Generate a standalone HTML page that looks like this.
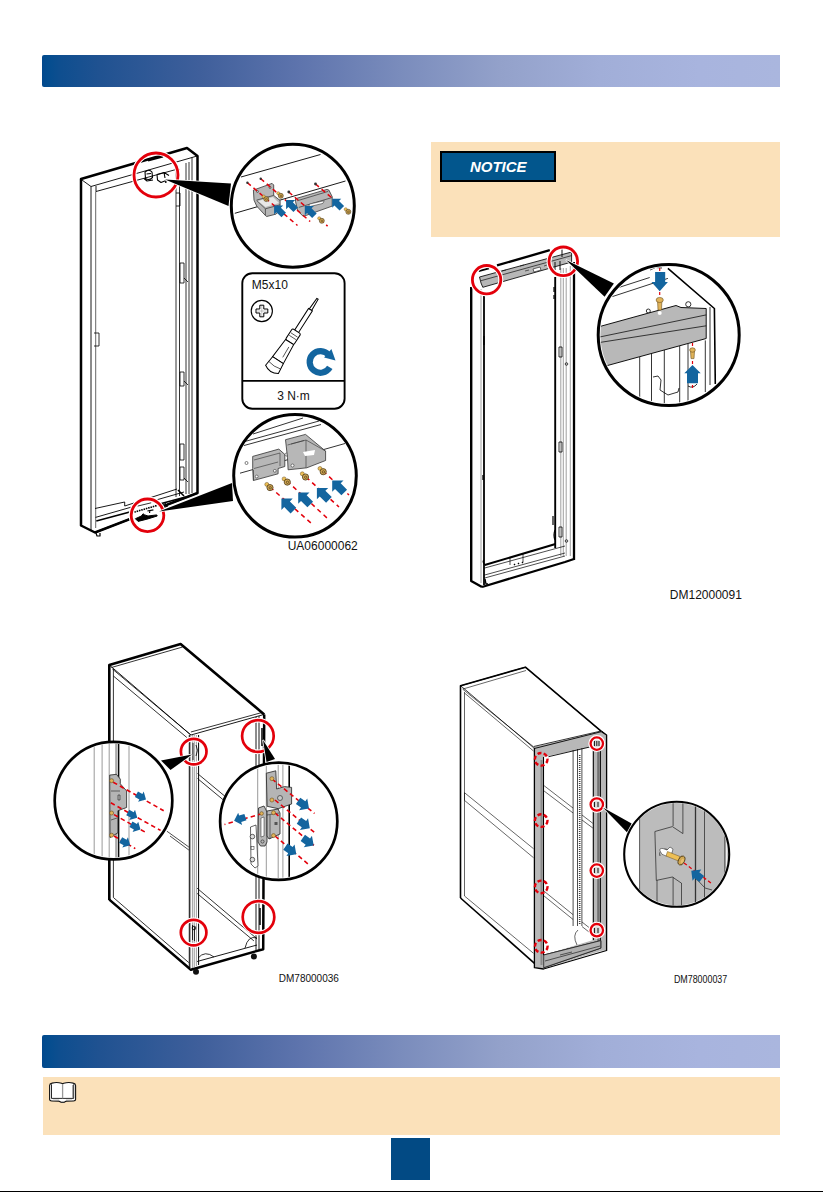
<!DOCTYPE html>
<html><head><meta charset="utf-8">
<style>
html,body{margin:0;padding:0;background:#fff;}
body{width:823px;height:1192px;position:relative;overflow:hidden;font-family:"Liberation Sans",sans-serif;}
.bar{position:absolute;left:42px;width:738px;height:32px;border-radius:2px 0 0 2px;
background:linear-gradient(to right,#02488C 0%,#034D8F 0.7%,#0E4E8F 2.4%,#205291 7.9%,#3F5F9B 21.4%,#5E74AD 35%,#7A8CBC 48.5%,#93A1CA 62%,#A1AED8 75.6%,#A8B4DE 89%,#AAB6DE 100%);}
.note{position:absolute;background:#FBE1BA;}
.notice-lbl{position:absolute;left:440px;top:151px;width:111.5px;height:27px;background:#02568D;border:2px solid #000;
color:#fff;font:italic bold 15px "Liberation Sans",sans-serif;text-align:center;line-height:28px;text-indent:1px;box-sizing:content-box;}
.pg{position:absolute;left:391px;top:1138px;width:39px;height:42px;background:#024A84;}
.bline{position:absolute;left:0;top:1191px;width:823px;height:1px;background:#000;}
svg{position:absolute;left:0;top:0;}
.cap{font-family:"Liberation Sans",sans-serif;fill:#111;}
</style></head><body>
<div class="bar" style="top:55px"></div>
<div class="note" style="left:431px;top:142px;width:349px;height:95px"></div>
<div class="notice-lbl">NOTICE</div>
<div class="bar" style="top:1035px;height:33px"></div>
<div class="note" style="left:43px;top:1077px;width:737px;height:58px"></div>
<div class="pg"></div>
<div class="bline"></div>

<svg width="823" height="1192" viewBox="0 0 823 1192">
<defs>
<path id="arr" d="M0 0 L-8 -8 L-8 -4 L-17 -4 L-17 4 L-8 4 L-8 8 Z" fill="#13659F"/>
<path id="arr2" d="M0 0 L-7.5 -7.5 L-7.5 -4 L-14 -4 L-14 4 L-7.5 4 L-7.5 7.5 Z" fill="#13659F"/>
<g id="scr"><circle cx="-2.8" cy="-2.8" r="2" fill="#EDBF55" stroke="#6b5020" stroke-width="0.5"/><circle cx="0.4" cy="0.4" r="3.1" fill="#D2A852" stroke="#4a3818" stroke-width="0.8"/><circle cx="0.6" cy="0.6" r="1.2" fill="none" stroke="#3a2a10" stroke-width="0.6"/></g>
</defs>
<!-- book icon -->
<g fill="none" stroke-linejoin="round">
<path d="M49.6 1085.5 Q49.6 1083.6 52 1083.1 Q57 1081.9 61.5 1083.3 L62.6 1083.8 L63.7 1083.3 Q68.5 1081.9 73.2 1083.1 Q75.6 1083.6 75.6 1085.5 L75.6 1099.6 Q75.6 1100.9 73.5 1101 L66.5 1101.1 Q64.6 1101.5 64.2 1102.4 L61 1102.4 Q60.6 1101.5 58.7 1101.1 L51.7 1101 Q49.6 1100.9 49.6 1099.6 Z" fill="#fff" stroke="#111" stroke-width="1.1"/>
<path d="M51.5 1084.3 L51.5 1098.4 L73.7 1098.4 L73.7 1084.3" stroke="#111" stroke-width="0.9"/>
<path d="M62.6 1084 L62.6 1098.3" stroke="#999" stroke-width="1.3"/>
<path d="M72.5 1085 L72.5 1098" stroke="#aaa" stroke-width="1"/>
<path d="M53 1100 L59 1100 M66 1100 L72 1100 M61 1101.8 L64 1101.8" stroke="#aaa" stroke-width="0.8"/>
</g>

<g id="ill1">
<!-- door frame -->
<g fill="none" stroke="#000" stroke-linejoin="round">
<path d="M81 179 L187 148 L197.5 156 L197.5 493 L95 532.5 L81 525.5 Z" fill="#fff" stroke-width="2.5"/>
<path d="M82 180 L91 186.5 L192 157.5 L197 156" stroke-width="0.9"/>
<path d="M96 191.5 L176 169.5 M96 186 L96 191.5" stroke-width="0.9"/>
<path d="M91 186.5 L91 531" stroke-width="0.9"/>
<path d="M95.7 191.5 L95.7 528" stroke-width="0.6"/>
<path d="M176 170 L176 497 M179.5 169 L179.5 496 M186 163 L186 494 M189 162 L189 494 M192 157.5 L192 493" stroke-width="0.8"/>
<!-- bottom rail -->
<path d="M95 508.5 L124.7 502 L124.7 506 M124.7 506 L177 489" stroke-width="0.9"/>
<path d="M95.5 517.4 L184 492" stroke-width="0.9"/>
<path d="M96.3 521 L185.6 497" stroke-width="1.6"/>
<path d="M95 532.5 L197.5 493" stroke-width="1.8"/>
<path d="M178 490 L184 496" stroke-width="1.5"/>
<!-- small latches on right rail -->
<path d="M180 263 L180 283 L184 283 L184 263 Z M180 372 L180 386 L184 386 L184 372 Z M180 444 L180 460 L184 460 L184 444 Z M180 467 L180 480 L184 480 L184 467 Z" stroke-width="0.8"/>
<path d="M184 278 L188 282 M184 381 L188 385 M184 478 L188 482" stroke-width="0.8"/>
<path d="M94 333 L99 333 L99 346 L94 346" stroke-width="0.8"/>
<path d="M176 176 L180 176 M176 193 L180 193 L180 206 L176 206" stroke-width="0.8"/>
<!-- top details -->
<path d="M145 172 Q149 168.5 152 172 L152.5 177.5 Q149 181 145.5 178.5 Z M146.5 174 L151 173.5 M144 178.5 L147 181 L153 180" stroke-width="1.1"/>
<path d="M157 174.5 L164 172.5 L169 175.5 M157 174.5 L157.5 180 L161 182.5 L166 180.5 M164 172.5 L165 178" stroke-width="1.1"/>
<circle cx="165.8" cy="182" r="0.9" fill="#000" stroke="none"/>
<path d="M148 160.5 L163 156.5" stroke-width="2"/>
<!-- bottom circle details -->

<path d="M96 533 L97 536 L100 536 L100 533" stroke-width="1.2"/>
</g>
<!-- red circles -->
<circle cx="156" cy="175" r="22" fill="none" stroke="#fff" class="halo" stroke-width="5.0"/>
<circle cx="156" cy="175" r="22" fill="none" stroke="#E3000B" stroke-width="2.8"/>
<circle cx="147.5" cy="515.3" r="16.3" fill="#fff"/>
<g fill="none" stroke="#000">
<path d="M134.3 512.1 L156.7 505.6" stroke-width="1.6" stroke-dasharray="1.6 0.8"/>
<path d="M137.6 506.1 L151.2 502.8" stroke-width="0.8"/>
<path d="M135.4 518.7 L141.4 516 L143 513.8 L144.7 514.9 L148 516 L156.7 514.9 L157.2 516 L146.9 519.2 L138.1 521.4 Z" fill="#000" stroke-width="1"/>
<path d="M147.4 511 L153.4 509.8 M150 510.5 L149.5 513" stroke-width="1.2"/>
<path d="M158 506 L166 503.5 M160 509 L168 506" stroke-width="1"/>
</g>
<circle cx="147.5" cy="515.3" r="16.3" fill="none" stroke="#fff" class="halo" stroke-width="5.0"/>
<circle cx="147.5" cy="515.3" r="16.3" fill="none" stroke="#E3000B" stroke-width="2.8"/>
<!-- wedges -->
<path d="M165 179.5 L231 183.5 L228.5 206 Z" fill="#000" stroke="#fff" stroke-width="1.6" paint-order="stroke"/>
<path d="M159 511.5 L232 483 L233 501 Z" fill="#000" stroke="#fff" stroke-width="1.6" paint-order="stroke"/>

<!-- big circle 1 -->
<circle cx="292.8" cy="205.8" r="61.5" fill="#fff" stroke="#000" stroke-width="3"/>
<g fill="none" stroke="#000" stroke-width="0.9">
<path d="M241 177 L320.5 154.5"/>
<path d="M234.8 213.3 L345.5 181"/>
</g>
<!-- bracket 1 -->
<path d="M253.4 190.1 L272.1 183.4 L273.7 185 L273.7 195.4 L280.1 200.5 L280.1 210.1 L276.1 214.1 L266.7 216.5 L265.4 215.5 L256.7 206.1 L254 200.1 Z" fill="#B7B7B7" stroke="#333" stroke-width="0.8"/>
<path d="M256.7 200.1 L273.7 195.4 M265.4 208.8 L280.1 204.8 M265.4 208.8 L265.4 215.5 M256.7 200.5 L265.4 208.8" fill="none" stroke="#333" stroke-width="0.7"/>
<path d="M258 201 L273 197 L279 203 L265.4 207 Z" fill="#e8e8e8"/>
<circle cx="257.5" cy="191.5" r="1" fill="none" stroke="#333" stroke-width="0.6"/>
<circle cx="270" cy="187.5" r="1" fill="none" stroke="#333" stroke-width="0.6"/>
<!-- bracket 2 -->
<path d="M295.5 198.7 L326.9 189.4 L328.9 190.1 L332.2 196.7 L332.2 206.1 L304.2 216.1 L302.2 215.5 L297.5 210.1 L295.5 201.4 Z" fill="#B7B7B7" stroke="#333" stroke-width="0.8"/>
<path d="M297.5 200.7 L328.2 191.4 M298.8 207.4 L332.2 197.5" fill="none" stroke="#333" stroke-width="0.7"/>
<path d="M309.5 204.1 L324.2 200.7 L322.9 203.4 L308.8 206.8 Z" fill="#fff" stroke="#333" stroke-width="0.6"/>
<!-- red dashed lines -->
<g stroke="#E3000B" stroke-width="1.5" stroke-dasharray="4.5 3.5" fill="none">
<path d="M247.4 182.7 L297.5 225.5"/>
<path d="M260.7 178.7 L310.2 221.5"/>
<path d="M288.8 192 L304.2 205.4"/>
<path d="M315.5 184 L332.2 198.1"/>
<path d="M320.2 219.5 L327.6 226.1"/>
</g>
<g fill="#333"><circle cx="247.4" cy="182.7" r="1.2"/><circle cx="260.7" cy="178.7" r="1.2"/><circle cx="288.8" cy="192" r="1.4"/><circle cx="315.5" cy="184" r="1.4"/></g>
<!-- screws -->
<use href="#scr" transform="translate(266,198.8) scale(0.8)"/>
<use href="#scr" transform="translate(280.5,195.5) scale(0.8)"/>
<use href="#scr" transform="translate(321.5,220.5) scale(0.8)"/>
<use href="#scr" transform="translate(348,211.5) scale(0.8)"/>
<!-- blue arrows circle 1 -->
<use href="#arr" transform="translate(274.1,205.4) rotate(225) scale(0.8)"/>
<use href="#arr" transform="translate(286.1,200.1) rotate(225) scale(0.8)"/>
<use href="#arr" transform="translate(304.8,206.1) rotate(225) scale(0.8)"/>
<use href="#arr" transform="translate(332.2,198.7) rotate(225) scale(0.8)"/>

<!-- tool box -->
<rect x="242.3" y="273.2" width="102.3" height="135.5" rx="10" fill="#fff" stroke="#000" stroke-width="1.9"/>
<path d="M242.3 380.8 L344.6 380.8" stroke="#000" stroke-width="1.8"/>
<text x="251.8" y="288.9" font-size="12" fill="#111" class="cap">M5x10</text>
<text x="293.5" y="400" font-size="12" fill="#111" class="cap" text-anchor="middle">3 N·m</text>
<circle cx="261.8" cy="311" r="10.6" fill="none" stroke="#000" stroke-width="1.1"/>
<path d="M259.8 305.2 L263.8 305.2 L263.8 309 L267.8 309 L267.8 313 L263.8 313 L263.8 316.8 L259.8 316.8 L259.8 313 L256 313 L256 309 L259.8 309 Z" fill="#fff" stroke="#000" stroke-width="1"/>
<path d="M261.8 306 L261.8 316 M257 311 L266.8 311" stroke="#888" stroke-width="0.5"/>
<!-- screwdriver -->
<g transform="translate(317.5,298.8) rotate(32.8)" fill="#fff" stroke="#000" stroke-width="1">
<path d="M-0.8 0 L0.8 0 L1.4 13 L-1.4 13 Z"/>
<rect x="-2.3" y="13" width="4.6" height="26"/>
<rect x="-5" y="38.5" width="10" height="13" rx="1.5"/>
<path d="M-4.8 51.5 L-6.4 73 L6.4 73 L4.8 51.5 Z"/>
<path d="M-6.4 73 L-7.6 84 Q0 89 7.6 84 L6.4 73 Z"/>
<path d="M-4 43 L4 43 M-4 46 L4 46 M2 56 L2.5 68 M-7 79 Q0 81 7 79" stroke-width="0.6"/>
</g>
<!-- rotation arrow -->
<path d="M329.8 367.4 A10.8 10.8 0 1 1 328.8 355.1" fill="none" stroke="#13659F" stroke-width="6.2"/>
<path d="M331.4 349 L335.5 360.5 L324.1 357.5 Z" fill="#13659F"/>

<!-- big circle 2 -->
<circle cx="295" cy="475.8" r="61.3" fill="#fff" stroke="#000" stroke-width="3"/>
<g fill="none" stroke="#000" stroke-width="0.8">
<path d="M253 434 L303 418 M243 442 L319 421 M244 445.5 L321 424.5 M240 473.2 L345 443.5"/>
</g>
<path d="M252.7 456.4 L278.8 449.1 L284.8 454.4 L284.8 466.5 L278.1 468.5 L278.1 473.8 L253.4 480.5 L252.7 468.5 Z" fill="#B7B7B7" stroke="#333" stroke-width="0.8"/>
<path d="M254 460 L280 453 L280 466 M254 468.5 L278.1 462 M253.4 480.5 L253.4 470" fill="none" stroke="#333" stroke-width="0.6"/>
<circle cx="256.7" cy="476.5" r="1.4" fill="#fff" stroke="#333" stroke-width="0.6"/>
<circle cx="274.8" cy="470.8" r="1.4" fill="#fff" stroke="#333" stroke-width="0.6"/>
<circle cx="246.5" cy="463" r="1.5" fill="#fff" stroke="#333" stroke-width="0.6"/>
<circle cx="286.5" cy="454.5" r="1.5" fill="#fff" stroke="#333" stroke-width="0.6"/>
<path d="M285.5 439.7 L305.5 434.4 L325.6 451.1 L325.6 460.5 L306.8 467.8 L288.1 469.8 L287.5 457.8 Z" fill="#B7B7B7" stroke="#333" stroke-width="0.8"/>
<path d="M287.5 445 L306 440 L306 467.8 M306 440 L325.6 451.1 M291 444 L304 440.5" fill="none" stroke="#333" stroke-width="0.6"/>
<path d="M303 452 L315 450 L314 455 L305 456 Z" fill="#fff"/>
<circle cx="292.5" cy="465.5" r="1.5" fill="#fff" stroke="#333" stroke-width="0.6"/>
<g stroke="#E3000B" stroke-width="1.5" stroke-dasharray="4.5 3.8" fill="none">
<path d="M270 487 L311 523"/>
<path d="M287 481 L327 518"/>
<path d="M306 477 L339 507"/>
<path d="M323 471 L349 495"/>
</g>
<use href="#scr" transform="translate(269.6,487.2)"/>
<use href="#scr" transform="translate(286.9,481.7)"/>
<use href="#scr" transform="translate(305.1,476.6)"/>
<use href="#scr" transform="translate(322.8,471.3)"/>
<use href="#arr" transform="translate(281.4,498.6) rotate(225)"/>
<use href="#arr" transform="translate(298.2,492.5) rotate(225)"/>
<use href="#arr" transform="translate(316.9,487.9) rotate(225)"/>
<use href="#arr" transform="translate(332.2,480.5) rotate(225)"/>
<text x="287.7" y="550.2" font-size="12" fill="#111" class="cap">UA06000062</text>
</g>
<g id="ill2">
<g fill="none" stroke="#000" stroke-linejoin="round">
<!-- top back edge -->
<path d="M497 265.4 L549.8 250.2" stroke-width="2.3"/>
<path d="M478.7 271.2 L489 268.3" stroke-width="1.8"/>
<!-- left post -->
<path d="M471.2 287 L471.2 581 L482 587" stroke-width="2.4"/>
<path d="M484 295 L484 585" stroke-width="1.8"/>
<path d="M481 289 L481 583" stroke="#888" stroke-width="0.8"/>
<!-- right post -->
<path d="M574 262 L574 560" stroke-width="2.3"/>
<path d="M555.2 277 L555.2 548" stroke-width="1.9"/>
<path d="M560.8 268 L560.8 556 M563.3 268 L563.3 556 M566.2 268 L566.2 556 M570.3 266 L570.3 556" stroke="#777" stroke-width="0.7"/>
<!-- bottom rail -->
<path d="M482 587 L565 562 L574 559" stroke-width="2.3"/>
<path d="M484.7 565 L555.5 544" stroke-width="2"/>
<path d="M484.7 568 L565 546 M484.7 575 L565 553 M484.7 578 L565 556" stroke-width="0.7"/>
<path d="M510 558 L510 565 M523 554 L523 562" stroke-width="0.7"/>
<path d="M514 564 L515 565 M518 563 L519 564 M522 562 L523 563" stroke-width="1.4"/>
<path d="M555 540 Q553 535 555 530 M484 560 Q482 562 485 565" stroke-width="1.2"/>
<path d="M485 579 L486 584 L488 584" stroke-width="1.3"/>
<!-- details on right post -->
<path d="M559 347 L559 357 L562 357 L562 347 Z M559 442 L559 452 L562 452 L562 442 Z M559 527 L559 537 L562 537 L562 527 Z" stroke-width="0.8"/>
<circle cx="566.5" cy="364" r="1.3" stroke-width="0.7"/><circle cx="566.5" cy="541" r="1.3" stroke-width="0.7"/>
<path d="M554 287 L554 292 M554 295 L554 299 M553 516 L553 525" stroke-width="1.2"/>
<path d="M484 336 L484 345 M483 475 L483 480" stroke-width="1.3"/>
</g>
<!-- top gray bar -->
<path d="M479.5 277 L571.6 252 L571.6 262 L482.8 287.3 L481 283 Z" fill="#B7B7B7" stroke="#111" stroke-width="0.9"/>
<path d="M481 280.7 L571.6 255.6" fill="none" stroke="#111" stroke-width="0.7"/>
<path d="M533 269 L540 267 L541 270 L534 272 Z M525 271 L529 270 M544 266 L550 264" fill="#fff" stroke="#111" stroke-width="0.6"/>
<path d="M502 271 L506 270 M520 266 L524 265" stroke="#111" stroke-width="0.6"/>
<path d="M560 261 L560 270 M562 257 L562 248 M555 262 L555 270" stroke="#111" stroke-width="1"/>
<!-- red circles -->
<circle cx="486.6" cy="279.7" r="14.2" fill="none" stroke="#fff" class="halo" stroke-width="5.0"/>
<circle cx="486.6" cy="279.7" r="14.2" fill="none" stroke="#E3000B" stroke-width="2.8"/>
<circle cx="563.3" cy="261.3" r="14.3" fill="none" stroke="#fff" class="halo" stroke-width="5.0"/>
<circle cx="563.3" cy="261.3" r="14.3" fill="none" stroke="#E3000B" stroke-width="2.8"/>
<!-- wedge -->
<path d="M566 260 L613.9 283.5 L604.6 296.8 Z" fill="#000" stroke="#fff" stroke-width="1.6" paint-order="stroke"/>
<!-- zoom circle -->
<clipPath id="zc2"><circle cx="668.7" cy="335" r="68.3"/></clipPath>
<circle cx="668.7" cy="335" r="70.5" fill="#fff"/>
<g clip-path="url(#zc2)">
<g fill="none" stroke="#000" stroke-width="0.8">
<path d="M612.3 296.6 L667.9 278.4 M618.7 287.5 L649.7 277.5 M650 270 Q655 266 662 268"/>
<path d="M667.9 268.4 L714.4 308.5 L715.3 384" stroke-width="1.6"/>
<path d="M710 307 L710 385"/>
<path d="M639.7 357 L639.7 400 M651.5 353 L651.5 404 M664.3 349.5 L664.3 405 M679.7 345.8 L679.7 404 M688 344 L688 402 M705.3 340.4 L705.3 392"/>
<path d="M653 377 L658 376 L661 380 L660 390 L668 395 L678 392 L679 388"/>
<path d="M688 386 Q693 389 697 384"/>
<circle cx="688.3" cy="304.3" r="2.6"/>
<circle cx="648.3" cy="311" r="2"/>
</g>
<path d="M590 329.2 L676 305.5 L681 307.5 L706.2 308.5 L706.2 338.5 L590 370.3 Z" fill="#B8B8B8" stroke="#111" stroke-width="1"/>
<path d="M590 339 L706.2 314.9 M590 344 L706.2 325.8" fill="none" stroke="#111" stroke-width="0.8"/>
<circle cx="659.7" cy="313" r="2" fill="#fff"/>
<g stroke="#E3000B" stroke-width="1.2" stroke-dasharray="3 3" fill="none">
<path d="M659.7 268 L659.7 300"/>
<path d="M692.5 343 L692.5 388"/>
</g>
<g fill="#E1B45A" stroke="#6b5020" stroke-width="0.6">
<path d="M657.5 300 L661.9 300 L661.5 310 L658 310 Z"/>
<ellipse cx="659.7" cy="300" rx="3.6" ry="2.6"/>
<path d="M690.5 351 L694.5 351 L694 358.6 L691 358.6 Z"/>
<ellipse cx="692.5" cy="350" rx="2.8" ry="2.2"/>
</g>
<g fill="#13659F">
<path d="M655.1 272 L665.2 272 L665.2 282 L667.9 282 L659.7 291.2 L651.5 282 L655.1 282 Z"/>
<path d="M687 383.2 L698 383.2 L698 373.2 L700.7 373.2 L692.5 365 L684.3 373.2 L687 373.2 Z"/>
</g>
</g>
<circle cx="668.7" cy="335" r="70.5" fill="none" stroke="#000" stroke-width="3"/>
<text x="669.8" y="598.6" font-size="12" class="cap">DM12000091</text>
</g>
<g id="ill3">
<g fill="none" stroke="#000" stroke-linejoin="round">
<!-- top panel -->
<path d="M109.3 665 L180.6 644.1 L264.2 714.4 L190.9 735 Z" fill="#fff" stroke-width="0.9"/>
<path d="M109.3 900 L109.3 665 L180.6 644.1 L264.2 714.4" stroke-width="2.6"/>
<path d="M111.4 667.5 L182.6 647 M112.4 669 L190.9 735 M113.4 676 L186.8 737.5 M190.9 732 L262 712.5" stroke-width="0.8"/>
<path d="M113.4 669 L113.4 897.5" stroke-width="0.8"/>
<!-- bottom -->
<path d="M109.3 899.6 L190.9 969.8 L263.2 949.2 L264.2 714.4" stroke-width="2.5"/>
<path d="M113.4 897.5 L188.8 962.6" stroke-width="0.8"/>
<!-- front posts -->
<path d="M189.3 735 L189.3 969 M198.6 735 L198.6 965" stroke-width="1"/>
<path d="M190.6 735 L190.6 969 M192.6 735 L192.6 968 M194.3 735 L194.3 967 M196.4 735 L196.4 966" stroke="#777" stroke-width="0.7"/>
<path d="M256 717 L256 950 M259 716 L259 950" stroke-width="0.9"/>
<!-- bottom rail -->
<path d="M197.1 961.5 L257 945" stroke-width="0.9"/>
<path d="M198 958 Q205 950 214 957 M245 948 Q248 935 257 938" stroke-width="0.8"/>
<!-- back frame diagonals -->
<path d="M197.1 888.2 L257 938.8 M197.1 893.4 L253.9 940.9 M197.5 773.5 L256 822 M197.5 778.5 L256 827" stroke-width="0.8"/>
<path d="M166.9 831.2 L188.8 847 M170 836 L188.8 850" stroke-width="0.7"/>
</g>
<g fill="#111"><circle cx="196" cy="971.8" r="3"/><circle cx="253.9" cy="956.4" r="3"/></g>
<!-- red circles -->
<g fill="none" stroke="#fff" stroke-width="4.8" class="halo3">
<circle cx="193.7" cy="751.6" r="12.8"/>
<circle cx="257.9" cy="736" r="15.8"/>
<circle cx="193.6" cy="932.6" r="12.8"/>
<circle cx="258.5" cy="917" r="15.8"/>
</g>
<g fill="none" stroke="#E3000B" stroke-width="2.7">
<circle cx="193.7" cy="751.6" r="12.8"/>
<circle cx="257.9" cy="736" r="15.8"/>
<circle cx="193.6" cy="932.6" r="12.8"/>
<circle cx="258.5" cy="917" r="15.8"/>
</g>
<g fill="none" stroke="#000" stroke-width="0.8">
<path d="M193 743 L193 760 M196 745 Q199 750 196 756 M192.5 925 L192.5 940 M194.5 927 L194.5 941"/>
<circle cx="194" cy="928" r="1.8"/>
<path d="M262 728 L262 746 M260 908 L260 925" stroke-width="1.5"/>
</g>
<!-- wedges -->
<path d="M192 754.6 L161 760.5 L170.5 770 Z" fill="#000" stroke="#fff" stroke-width="1.6" paint-order="stroke"/>
<path d="M263 740 L266.5 762 L275 759 Z" fill="#000" stroke="#fff" stroke-width="1.6" paint-order="stroke"/>

<!-- left zoom circle -->
<clipPath id="zc3a"><circle cx="113.5" cy="800.6" r="56.8"/></clipPath>
<circle cx="113.5" cy="800.6" r="58.8" fill="#fff"/>
<g clip-path="url(#zc3a)">
<g fill="none" stroke="#000">
<path d="M94.2 735 L94.2 866 M102.1 735 L102.1 866 M109.2 735 L109.2 866 M129 735 L129 866" stroke-width="0.6" stroke="#555"/>
<path d="M116.4 735 L116.4 866" stroke-width="2.5" stroke="#aaa"/>
<path d="M118.7 735 L118.7 866" stroke-width="1.3"/>
</g>
<path d="M109.7 775.1 L116.4 774.3 L120.3 779.1 L120.3 783.8 L126.6 790.9 L126.6 807.5 L117.9 810.7 L117.9 832.8 L110 837.5 Z" fill="#B5B5B5" stroke="#222" stroke-width="0.8"/>
<path d="M111 791 L120 791 M118 795 L120 795 L120 800 L118 800 Z M111 820 L117 818" fill="none" stroke="#222" stroke-width="0.6"/>
<g stroke="#E3000B" stroke-width="1.6" stroke-dasharray="4.5 3.2" fill="none">
<path d="M113.2 782.2 L163.7 810.7"/>
<path d="M110.8 802.8 L160.6 830.4"/>
<path d="M114 814.6 L146.4 832.8"/>
<path d="M114 836 L135.3 848.6"/>
</g>
<g fill="#E1B45A" stroke="#6b5020" stroke-width="0.6">
<circle cx="111.6" cy="780.7" r="2"/><circle cx="111.6" cy="813" r="2"/><circle cx="111.6" cy="835.2" r="2"/>
</g>
<g fill="#13659F">
<use href="#arr2" transform="translate(146,799.5) rotate(29) scale(0.78)"/>
<use href="#arr2" transform="translate(137.3,817.7) rotate(29) scale(0.78)"/>
<use href="#arr2" transform="translate(140.5,829.6) rotate(29) scale(0.78)"/>
<use href="#arr2" transform="translate(130.2,845.3) rotate(29) scale(0.78)"/>
</g>

</g>
<circle cx="113.5" cy="800.6" r="58.8" fill="none" stroke="#000" stroke-width="2.7"/>
<!-- right zoom circle -->
<clipPath id="zc3b"><circle cx="278.7" cy="821.3" r="56.6"/></clipPath>
<circle cx="278.7" cy="821.3" r="58.6" fill="#fff"/>
<g clip-path="url(#zc3b)">
<g fill="none">
<path d="M257.7 755 L257.7 888 M266.3 755 L266.3 888 M278.2 755 L278.2 888 M282.9 755 L282.9 888" stroke-width="0.6" stroke="#555"/>
<path d="M289.2 755 L289.2 888" stroke-width="1.6" stroke="#000"/>
</g>
<path d="M250.5 827 L256 825 L258 866 L255 868 L251 864 Z" fill="#fff" stroke="#222" stroke-width="0.7"/>
<circle cx="252.4" cy="836.6" r="2.3" fill="#ddd" stroke="#222" stroke-width="0.7"/><rect x="251" y="846.5" width="3" height="3" fill="none" stroke="#222" stroke-width="0.5"/>
<circle cx="252.4" cy="859.6" r="2.3" fill="#ddd" stroke="#222" stroke-width="0.7"/>
<path d="M266.3 773.2 L275.8 770.8 L276.6 789 L284.5 786.6 L291.6 787.4 L291.6 804 L278.2 808.7 L267.1 806.3 Z" fill="#B5B5B5" stroke="#222" stroke-width="0.8"/>
<circle cx="280" cy="798" r="2.5" fill="#c8c8c8" stroke="#222" stroke-width="0.6"/>
<path d="M258.5 808 L264 806 L267 812 L267 842 L265 846 L260.5 846 L258 842 Z" fill="#B7B7B7" stroke="#222" stroke-width="0.8"/>
<path d="M261 818 L264 817 L264 836 L261 837 Z" fill="#fff" stroke="#222" stroke-width="0.5"/>
<circle cx="262.5" cy="841.5" r="1.6" fill="none" stroke="#222" stroke-width="0.6"/>
<path d="M267 811 L278 809 L280 813 L280 834 L269 839 L267 836 Z" fill="#B7B7B7" stroke="#222" stroke-width="0.8"/>
<path d="M267 815 L279 813 M270 839 L270 815" fill="none" stroke="#222" stroke-width="0.6"/>
<rect x="274.5" y="822" width="3" height="3" fill="#555"/>
<g stroke="#E3000B" stroke-width="1.6" stroke-dasharray="4.5 3.2" fill="none">
<path d="M272 779 L314.5 813.5"/>
<path d="M275 800 L315.3 833.2"/>
<path d="M275 813 L315.3 846.6"/>
<path d="M275 836 L309 864.8"/>
<path d="M262.4 813.5 L224.5 824.5"/>
</g>
<g fill="#E1B45A" stroke="#6b5020" stroke-width="0.6">
<circle cx="271.9" cy="778.7" r="2"/><circle cx="271.9" cy="800" r="2"/><circle cx="273.5" cy="812.7" r="2"/><circle cx="273.5" cy="835.6" r="2"/><circle cx="261.6" cy="813.5" r="1.8"/>
</g>
<g fill="#13659F">
<use href="#arr2" transform="translate(309,808.5) rotate(35) scale(0.95)"/>
<use href="#arr2" transform="translate(309.8,828.2) rotate(35) scale(0.95)"/>
<use href="#arr2" transform="translate(313.7,845.6) rotate(35) scale(0.95)"/>
<use href="#arr2" transform="translate(296.3,854.3) rotate(35) scale(0.95)"/>
<use href="#arr2" transform="translate(234.1,820.8) rotate(162) scale(0.85)"/>
</g>
</g>
<circle cx="278.7" cy="821.3" r="58.6" fill="none" stroke="#000" stroke-width="2.7"/>
<text x="278.8" y="982.2" font-size="10" class="cap">DM78000036</text>
</g>
<g id="ill4">
<g fill="none" stroke="#000" stroke-linejoin="round">
<!-- top panel -->
<path d="M460.7 685.8 L525.4 667.2 L604.9 734.4 L533.7 747.8 Z" fill="#fff" stroke-width="0.8"/>
<path d="M460.5 898 L460.5 685.8 L525.4 667.2 L604.9 734.4" stroke-width="1.6"/>
<path d="M463 689 L526 670.5 M462.5 689 L533.7 746.9 M464.5 693 L533.5 751" stroke-width="0.6"/>
<path d="M464.5 692 L464.5 896" stroke-width="0.6"/>
<!-- side division -->
<path d="M464.5 792.7 L533.5 848.7 M464.5 800.4 L533.5 857.7 M464.5 792.7 L464.5 800.4" stroke-width="0.6"/>
<path d="M464.5 896 L533.5 953.3" stroke-width="0.6"/>
<path d="M460.5 898 L534.5 963.3" stroke-width="1.6"/>
</g>
<!-- front frame gray -->
<path d="M534.4 746.9 L601.6 731.6 L606.6 735 L606.6 950 L600.8 951 L543.5 968.5 L534.4 967.7 Z" fill="#B8B8B8"/>
<!-- interior opening -->
<path d="M543.5 757 L593.3 746.3 L593.3 940 L543.5 955 Z" fill="#fff"/>
<g fill="none" stroke="#000" stroke-linejoin="round">
<path d="M534.4 748 L534.4 967.7 L543.5 969 L606.6 950.5 L606.6 735 L601.6 731.6" stroke-width="1.3"/>
<path d="M543.5 757 L543.5 955 M593.3 746.3 L593.3 940" stroke-width="1.1"/>
<path d="M600.4 745 L600.4 948" stroke-width="1"/>
<path d="M533.7 746.5 L601 731" stroke-width="0.8"/>
<path d="M548.5 756.7 L592.8 746.3 M534.3 748.5 L601.6 731.6" stroke-width="0.9"/>
<path d="M541.5 760 L541.5 965" stroke="#8a8a8a" stroke-width="2"/>
<path d="M598.4 747 L598.4 946" stroke="#707070" stroke-width="2.4"/>

<!-- rack rail -->
<path d="M573.1 750 L573.1 926 M577.5 749 L577.5 926 M581.9 748 L581.9 926" stroke-width="0.7"/>
<path d="M579.7 755 L579.7 924" stroke-width="1.6" stroke-dasharray="0.8 1.2"/>
<!-- back diagonals -->
<path d="M544.1 785.7 L573.1 808.1 M544.1 791 L573.1 813 M582 815 L592.8 823.3 M582 820 L592.8 828 M544.1 891.2 L573.1 914.7 M544.1 896 L573.1 919.5 M582 922 L592.8 930.5 M582 926.5 L592.8 935" stroke-width="0.6"/>
<!-- bottom rail -->
<path d="M543.7 955 L600.8 940.6 L600.8 948.1 L543.7 967.7" stroke-width="0.8"/>
<path d="M543.7 959 L600.8 944 M555 952 L555 958 M568 948 L568 955" stroke-width="0.6"/>
<path d="M578 930 Q572 935 577 945" stroke-width="0.6"/>
</g>
<path d="M543.7 955 L600.8 940.6 L600.8 948.1 L543.7 967.7 Z" fill="#B0B0B0" stroke="#222" stroke-width="0.8"/>
<path d="M545 961 L600 946 M560 955 L572 952" fill="none" stroke="#222" stroke-width="0.7"/>
<!-- red circles -->
<g fill="none" stroke="#E3000B" stroke-width="2.4" stroke-dasharray="4 2.3">
<circle cx="541.2" cy="759.3" r="6.3"/>
<circle cx="541.2" cy="820.6" r="6.3"/>
<circle cx="541.2" cy="886.9" r="6.3"/>
<circle cx="541.3" cy="946.3" r="6.3"/>
</g>
<g fill="#ddd"><circle cx="596.8" cy="743.6" r="5.2"/><circle cx="596.8" cy="804.5" r="5.2"/><circle cx="596.8" cy="870.6" r="5.2"/><circle cx="596.8" cy="930.2" r="5.2"/></g>
<g fill="none" stroke="#222" stroke-width="1.1">
<path d="M594.5 741 L594.5 746 M596.8 741 L596.8 746 M599 741 L599 746 M594.5 802 L594.5 807 M598 802 L598 807 M594.5 868 L594.5 873 M598 868 L598 873 M594.5 928 L594.5 933 M598 928 L598 933"/>
</g>
<g fill="none" stroke="#fff" stroke-width="4.6" class="halo4">
<circle cx="596.8" cy="743.6" r="6.2"/>
<circle cx="596.8" cy="804.5" r="6.2"/>
<circle cx="596.8" cy="870.6" r="6.2"/>
<circle cx="596.8" cy="930.2" r="6.2"/>
</g>
<g fill="none" stroke="#E3000B" stroke-width="2.3">
<circle cx="596.8" cy="743.6" r="6.2"/>
<circle cx="596.8" cy="804.5" r="6.2"/>
<circle cx="596.8" cy="870.6" r="6.2"/>
<circle cx="596.8" cy="930.2" r="6.2"/>
</g>
<!-- wedge -->
<path d="M602.9 807.5 L631.6 823.5 L626.9 832.3 Z" fill="#000" stroke="#fff" stroke-width="1.6" paint-order="stroke"/>
<!-- zoom circle -->
<clipPath id="zc4"><circle cx="676.7" cy="854.3" r="51.2"/></clipPath>
<circle cx="676.7" cy="854.3" r="52.5" fill="#fff"/>
<g clip-path="url(#zc4)">
<rect x="639.6" y="795" width="95" height="120" fill="#BCBCBC"/>
<g fill="none" stroke="#333" stroke-width="0.8">
<path d="M639.6 795 L639.6 915 M673.1 795 L673.1 826 M682.9 795 L682.9 833.6 M695.5 795 L695.5 915 M704.5 795 L704.5 915 M724.8 795 L724.8 915 M657 880 L657 915 M673.1 877 L673.1 915 M681.5 883 L681.5 915"/>
<path d="M695.5 795 L695.5 915" stroke-width="1.3"/>
<path d="M654.9 831.5 L672.4 826.6 L682.9 833.6 M654.9 831.5 L656.3 880.4 L672.4 877 L681.5 883.2"/>
<path d="M695.5 878 L705 888 L712 890"/>
<path d="M660 856 Q658 851 665 849 L670 850 L673 856"/>
</g>
<path d="M726.5 795 L726.5 915" stroke="#fff" stroke-width="0.8"/>
</g>
<circle cx="676.7" cy="854.3" r="52.5" fill="none" stroke="#000" stroke-width="2.1"/>
<path d="M660 851 Q659 848 663 848.5 L667 850 L670 847 L673 849 L672 853 L666 856 Q661 855 660 851 Z" fill="#fff" stroke="#333" stroke-width="0.6"/>
<path d="M667.5 851.5 L680 856.5 L678.5 861 L666 856 Z" fill="#EDBF55" stroke="#6b5020" stroke-width="0.5"/>
<ellipse cx="681.5" cy="860.5" rx="3" ry="4.8" transform="rotate(25 681.5 860.5)" fill="#D2A852" stroke="#4a3818" stroke-width="0.8"/><ellipse cx="682.3" cy="861" rx="1.3" ry="2.5" transform="rotate(25 682.3 861)" fill="#E8C070"/>
<path d="M684 863 L711 883" stroke="#E3000B" stroke-width="1.3" stroke-dasharray="3.5 2.5"/>
<use href="#arr2" transform="translate(691.3,870.8) rotate(218) scale(0.95)"/>
<text x="673.9" y="983.3" font-size="10" class="cap" transform="translate(673.9 0) scale(0.89 1) translate(-673.9 0)">DM78000037</text>
</g>
</svg>
</body></html>
